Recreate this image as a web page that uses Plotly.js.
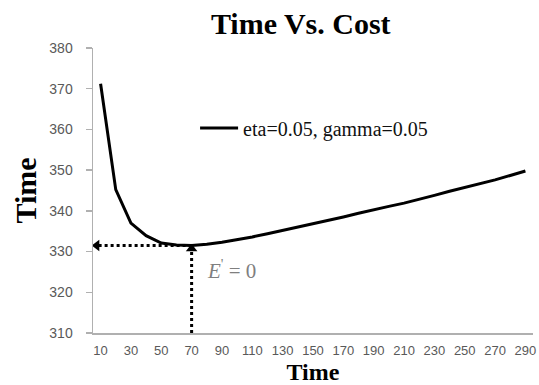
<!DOCTYPE html>
<html>
<head>
<meta charset="utf-8">
<script src="https://cdn.plot.ly/plotly-3.0.1.min.js"></script>
<style>html,body{margin:0;padding:0;background:#fff;}#chart{width:539px;height:385px;}</style>
</head>
<body>
<div id="chart"></div>
<script>
// Data
const timeCats = [10,20,30,40,50,60,70,80,90,100,110,120,130,140,150,160,170,180,190,200,210,220,230,240,250,260,270,280,290];
const timeValues = [371.2,345.2,337.0,333.9,332.1,331.6,331.5,331.8,332.3,332.9,333.6,334.4,335.2,336.0,336.9,337.7,338.5,339.4,340.3,341.1,341.9,342.8,343.8,344.8,345.7,346.6,347.6,348.7,349.8];
const xTickVals = [10,30,50,70,90,110,130,150,170,190,210,230,250,270,290];
const seriesName = "eta=0.05, gamma=0.05";
const xRange = [5, 295];
const yRange = [310, 380];

// optimum point (minimum)
let minIdx = 0;
timeValues.forEach((v,i)=>{ if (v < timeValues[minIdx]) minIdx = i; });
const optX = timeCats[minIdx];
const optY = timeValues[minIdx];

const traces = [
  {
    x: timeCats, y: timeValues, type: 'scatter', mode: 'lines',
    name: seriesName,
    line: {color: '#000000', width: 3},
    showlegend: true
  },
  { // horizontal dotted arrow to y axis
    x: [optX, xRange[0] + 3.2], y: [optY, optY], type: 'scatter', mode: 'lines',
    line: {color: '#000', width: 3, dash: 'dot'}, showlegend: false, hoverinfo: 'skip'
  },
  {
    x: [xRange[0] + 2.5], y: [optY], type: 'scatter', mode: 'markers',
    marker: {symbol: 'triangle-left', size: 10, color: '#000'}, showlegend: false, hoverinfo: 'skip'
  },
  { // vertical dotted arrow from x axis
    x: [optX, optX], y: [yRange[0], optY - 1.0], type: 'scatter', mode: 'lines',
    line: {color: '#000', width: 3, dash: 'dot'}, showlegend: false, hoverinfo: 'skip'
  },
  {
    x: [optX], y: [optY - 0.8], type: 'scatter', mode: 'markers',
    marker: {symbol: 'triangle-up', size: 10, color: '#000'}, showlegend: false, hoverinfo: 'skip'
  }
];

const layout = {
  width: 539, height: 385,
  margin: {l: 93, r: 6, t: 48, b: 52},
  paper_bgcolor: '#fff', plot_bgcolor: '#fff',
  title: {
    text: '<b>Time Vs. Cost</b>',
    font: {family: 'Liberation Serif', size: 30, color: '#000'},
    x: 0.558, xanchor: 'center', y: 0.94, yanchor: 'middle'
  },
  xaxis: {
    range: xRange, tickvals: xTickVals, ticktext: xTickVals.map(String),
    showgrid: false, zeroline: false, showline: true, linecolor: '#b0b0b0', linewidth: 1.5,
    ticks: '', ticklabelstandoff: 5,
    tickfont: {family: 'Liberation Sans', size: 13, color: '#595959'},
    title: {text: '<b>Time</b>', font: {family: 'Liberation Serif', size: 24, color: '#000'}, standoff: 9}
  },
  yaxis: {
    range: yRange, dtick: 10,
    showgrid: false, zeroline: false, showline: true, linecolor: '#b0b0b0', linewidth: 1.5,
    ticks: 'outside', ticklen: 6, tickcolor: '#b0b0b0', tickwidth: 1.5, ticklabelstandoff: 10,
    tickfont: {family: 'Liberation Sans', size: 14, color: '#595959'},
    title: {text: '<b>Time</b>', font: {family: 'Liberation Serif', size: 30, color: '#000'}, standoff: 4}
  },
  legend: {
    x: 0.232, y: 0.719, xanchor: 'left', yanchor: 'middle',
    bgcolor: 'rgba(0,0,0,0)', borderwidth: 0,
    font: {family: 'Liberation Serif', size: 20, color: '#111'},
    itemwidth: 38
  },
  annotations: [
    {
      x: optX + 9, y: optY - 5.8, xref: 'x', yref: 'y', xanchor: 'left', yanchor: 'middle',
      text: '<i>E</i><sup>\'</sup> = 0', showarrow: false,
      font: {family: 'Liberation Serif', size: 21, color: '#7f7f7f'}
    }
  ]
};

Plotly.newPlot('chart', traces, layout, {displayModeBar: false, staticPlot: true});
</script>
</body>
</html>
